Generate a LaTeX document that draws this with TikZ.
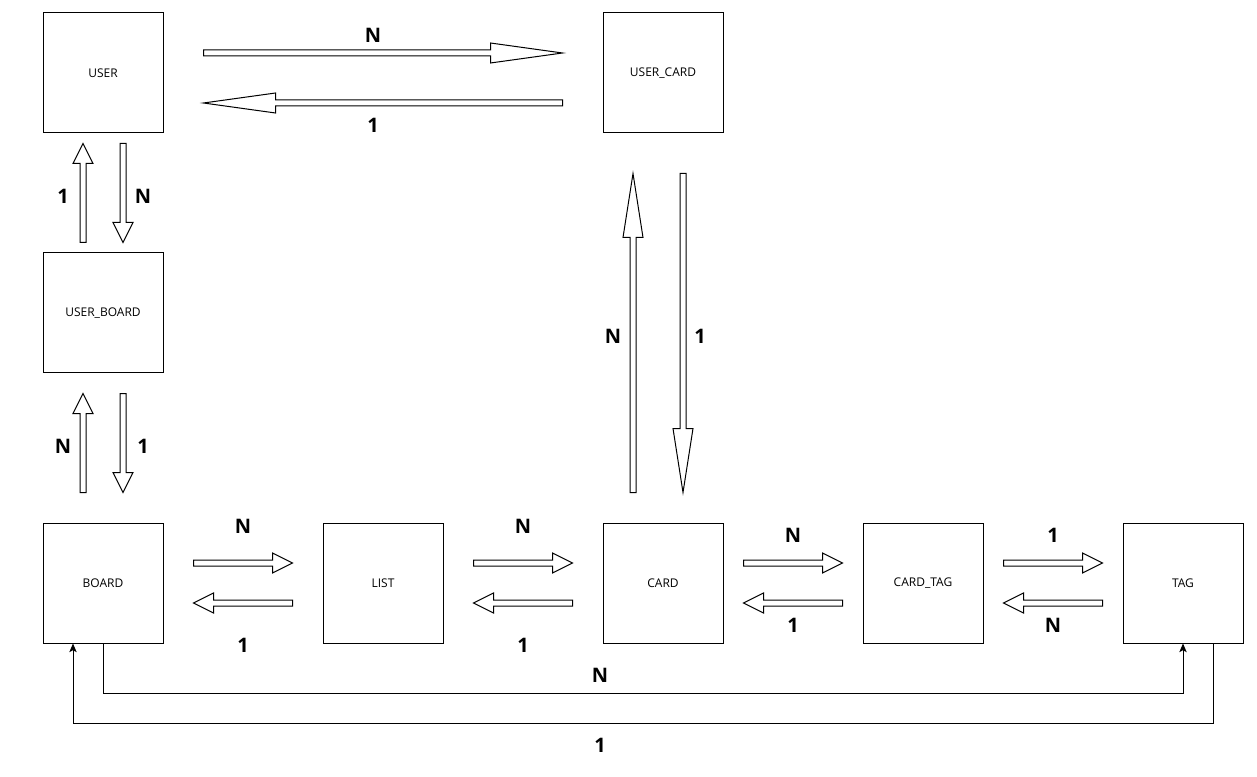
\documentclass[tikz,border=0pt]{standalone}
\usepackage{fontspec}
\setmainfont{Open Sans}
\usetikzlibrary{positioning,calc,arrows.meta}

\begin{document}
\begin{tikzpicture}[x=0.75pt,y=0.75pt,on grid,
    box/.style={draw,line width=0.75pt,minimum size=90pt,inner sep=0pt,font=\fontsize{9}{11}\selectfont},
    mult/.style={font=\fontsize{15}{18}\selectfont\bfseries,inner sep=0pt},
    conn/.style={line width=0.75pt,-{Stealth[length=6.5pt,width=5.5pt,inset=1.5pt]}},
    fat/.style={line width=0.75pt,line join=miter,to path={
        ($(\tikztostart)!2.25pt!90:(\tikztotarget)$)
        -- ($(\tikztotarget)!#1!(\tikztostart)!2.25pt!-90:(\tikztostart)$)
        -- ($(\tikztotarget)!#1!(\tikztostart)!7.5pt!-90:(\tikztostart)$)
        -- (\tikztotarget)
        -- ($(\tikztotarget)!#1!(\tikztostart)!7.5pt!90:(\tikztostart)$)
        -- ($(\tikztotarget)!#1!(\tikztostart)!2.25pt!90:(\tikztostart)$)
        -- ($(\tikztostart)!2.25pt!-90:(\tikztotarget)$)
        -- cycle}},
    fat/.default=15pt]
    \useasboundingbox (0,0) rectangle (1257,-777);

    % tables
    \node[box] (user)   at (103,-73)           {USER};
    \node[box] (ucard)  [right=420pt of user]  {USER\_CARD};
    \node[box] (uboard) [below=180pt of user]  {USER\_BOARD};
    \node[box] (board)  [below=202.5pt of uboard] {BOARD};
    \node[box] (list)   [right=210pt of board] {LIST};
    \node[box] (card)   [right=210pt of list]  {CARD};
    \node[box] (ctag)   [right=195pt of card]  {CARD\_TAG};
    \node[box] (tag)    [right=195pt of ctag]  {TAG};

    % ends of the block arrows
    \coordinate (uu1) at ([shift={(40,20)}]user.east);
    \coordinate (uu2) at ([shift={(-40,20)}]ucard.west);
    \coordinate (uu3) at ([shift={(-40,-30)}]ucard.west);
    \coordinate (uu4) at ([shift={(40,-30)}]user.east);
    \coordinate (ub1) at ([shift={(-20,10)}]uboard.north);
    \coordinate (ub2) at ([shift={(-20,-10)}]user.south);
    \coordinate (ub3) at ([shift={(20,-10)}]user.south);
    \coordinate (ub4) at ([shift={(20,10)}]uboard.north);
    \coordinate (bb1) at ([shift={(-20,30)}]board.north);
    \coordinate (bb2) at ([shift={(-20,-20)}]uboard.south);
    \coordinate (bb3) at ([shift={(20,-20)}]uboard.south);
    \coordinate (bb4) at ([shift={(20,30)}]board.north);
    \coordinate (cc1) at ([shift={(-30,30)}]card.north);
    \coordinate (cc2) at ([shift={(-30,-40)}]ucard.south);
    \coordinate (cc3) at ([shift={(20,-40)}]ucard.south);
    \coordinate (cc4) at ([shift={(20,30)}]card.north);
    \coordinate (bl1) at ([shift={(30,20)}]board.east);
    \coordinate (bl2) at ([shift={(-30,20)}]list.west);
    \coordinate (bl3) at ([shift={(-30,-20)}]list.west);
    \coordinate (bl4) at ([shift={(30,-20)}]board.east);
    \coordinate (lc1) at ([shift={(30,20)}]list.east);
    \coordinate (lc2) at ([shift={(-30,20)}]card.west);
    \coordinate (lc3) at ([shift={(-30,-20)}]card.west);
    \coordinate (lc4) at ([shift={(30,-20)}]list.east);
    \coordinate (ct1) at ([shift={(20,20)}]card.east);
    \coordinate (ct2) at ([shift={(-20,20)}]ctag.west);
    \coordinate (ct3) at ([shift={(-20,-20)}]ctag.west);
    \coordinate (ct4) at ([shift={(20,-20)}]card.east);
    \coordinate (tt1) at ([shift={(20,20)}]ctag.east);
    \coordinate (tt2) at ([shift={(-20,20)}]tag.west);
    \coordinate (tt3) at ([shift={(-20,-20)}]tag.west);
    \coordinate (tt4) at ([shift={(20,-20)}]ctag.east);

    \draw[fat=54pt] (uu1) to (uu2);
    \draw[fat=54pt] (uu3) to (uu4);
    \draw[fat] (ub1) to (ub2);
    \draw[fat] (ub3) to (ub4);
    \draw[fat] (bb1) to (bb2);
    \draw[fat] (bb3) to (bb4);
    \draw[fat=48pt] (cc1) to (cc2);
    \draw[fat=48pt] (cc3) to (cc4);
    \draw[fat] (bl1) to (bl2);
    \draw[fat] (bl3) to (bl4);
    \draw[fat] (lc1) to (lc2);
    \draw[fat] (lc3) to (lc4);
    \draw[fat] (ct1) to (ct2);
    \draw[fat] (ct3) to (ct4);
    \draw[fat] (tt1) to (tt2);
    \draw[fat] (tt3) to (tt4);

    % board <-> tag
    \draw[conn] (board.south) -- ++(0,-50) -| (tag.south);
    \draw[conn] ([shift={(30,0)}]tag.south) -- ++(0,-80) -| ([shift={(-30,0)}]board.south);

    % multiplicities
    \node[mult] (m_uu_n) at (373,-35)  {N};
    \node[mult] (m_uu_1) at (373,-125) {1};
    \node[mult] (m_ub_1) at (63,-196)  {1};
    \node[mult] (m_ub_n) at (143,-196) {N};
    \node[mult] (m_bb_n) at (63,-446)  {N};
    \node[mult] (m_bb_1) at (143,-446) {1};
    \node[mult] (m_cc_n) at (613,-336) {N};
    \node[mult] (m_cc_1) at (700,-336) {1};
    \node[mult] (m_bl_n) at (243,-526) {N};
    \node[mult] (m_bl_1) at (243,-645) {1};
    \node[mult] (m_lc_n) at (523,-526) {N};
    \node[mult] (m_lc_1) at (523,-645) {1};
    \node[mult] (m_ct_n) at (793,-535) {N};
    \node[mult] (m_ct_1) at (793,-625) {1};
    \node[mult] (m_tt_1) at (1053,-535) {1};
    \node[mult] (m_tt_n) at (1053,-625) {N};
    \node[mult] (m_bt_n) at (600,-675) {N};
    \node[mult] (m_bt_1) at (600,-745) {1};
\end{tikzpicture}
\end{document}
